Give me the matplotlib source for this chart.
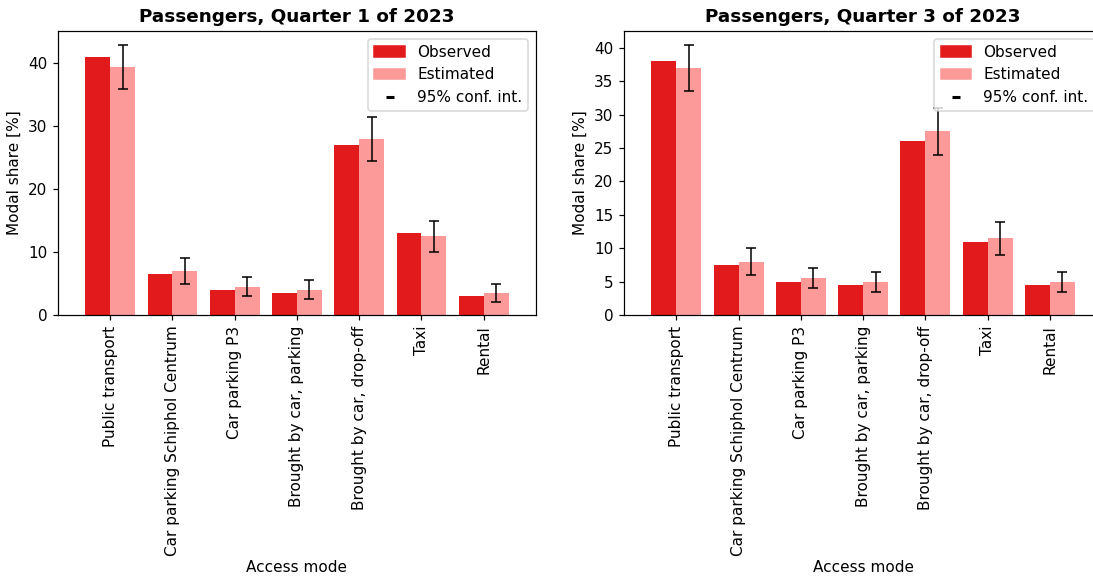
import numpy as np
import matplotlib
matplotlib.use("Agg")
import matplotlib.pyplot as plt
import matplotlib.patches as mpatches
from matplotlib.lines import Line2D

C_OBS = "#e31a1c"
C_EST = "#fb9a99"
DPI = 110

modes = [
    "Public transport",
    "Car parking Schiphol Centrum",
    "Car parking P3",
    "Brought by car, parking",
    "Brought by car, drop-off",
    "Taxi",
    "Rental",
]

# modal shares in %, per quarter
q1_observed = [41.0, 6.5, 4.0, 3.5, 27.0, 13.0, 3.0]
q1_estimated = [39.5, 7.0, 4.5, 4.0, 28.0, 12.5, 3.5]
q1_ci_low = [36.0, 5.0, 3.0, 2.5, 24.5, 10.0, 2.0]
q1_ci_high = [43.0, 9.0, 6.0, 5.5, 31.5, 15.0, 5.0]

q3_observed = [38.0, 7.5, 5.0, 4.5, 26.0, 11.0, 4.5]
q3_estimated = [37.0, 8.0, 5.5, 5.0, 27.5, 11.5, 5.0]
q3_ci_low = [33.5, 6.0, 4.0, 3.5, 24.0, 9.0, 3.5]
q3_ci_high = [40.5, 10.0, 7.0, 6.5, 31.0, 14.0, 6.5]

panels = [
    ("Passengers, Quarter 1 of 2023", q1_observed, q1_estimated, q1_ci_low, q1_ci_high),
    ("Passengers, Quarter 3 of 2023", q3_observed, q3_estimated, q3_ci_low, q3_ci_high),
]

fig = plt.figure(figsize=(1093 / DPI, 576 / DPI), dpi=DPI)
# second panel runs a little past the right edge of the canvas
ax_left = fig.add_axes([0.0530, 0.4531, 0.4374, 0.4931])
ax_right = fig.add_axes([0.5710, 0.4531, 0.4374, 0.4931])

x = np.arange(len(modes))
w = 0.4
for ax, (title, obs, est, lo, hi) in zip([ax_left, ax_right], panels):
    est = np.array(est)
    ax.bar(x - w / 2, obs, w, color=C_OBS)
    ax.bar(x + w / 2, est, w, color=C_EST)
    yerr = [est - np.array(lo), np.array(hi) - est]
    ax.errorbar(x + w / 2, est, yerr=yerr, fmt="none", ecolor="k",
                elinewidth=1, capsize=3)
    ax.set_xticks(x)
    ax.set_xticklabels(modes, rotation=90)
    ax.set_xlim(-0.84, 6.84)
    ax.set_xlabel("Access mode", labelpad=2)
    ax.set_ylabel("Modal share [%]")
    ax.set_title(title, fontweight="bold")
    handles = [
        mpatches.Patch(color=C_OBS, label="Observed"),
        mpatches.Patch(color=C_EST, label="Estimated"),
        Line2D([], [], color="k", marker="_", ls="none", markersize=5,
               markeredgewidth=2, label="95% conf. int."),
    ]
    ax.legend(handles=handles, loc="upper right")

fig.savefig("out.png", dpi=DPI)
